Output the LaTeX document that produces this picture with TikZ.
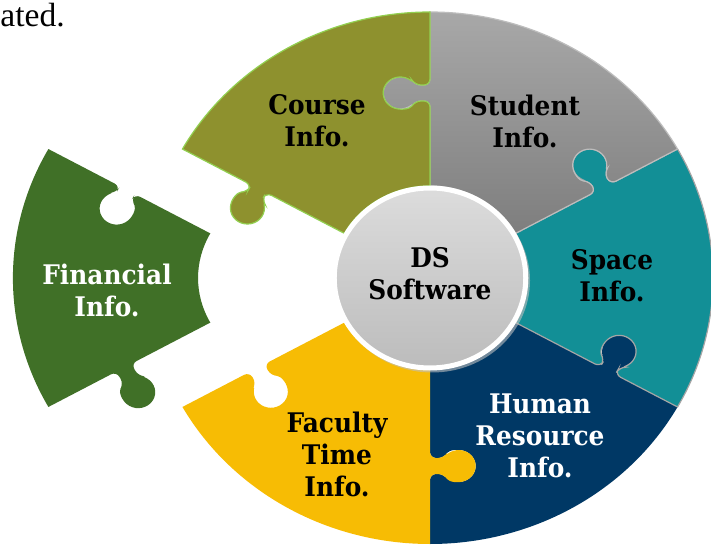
\documentclass[tikz,border=0pt]{standalone}
\usepackage{fontspec}
\setmainfont{DejaVu Serif}[FakeStretch=0.92]
\newfontfamily\pagefont{Liberation Serif}
\definecolor{cFin}{HTML}{407027}
\definecolor{cHR}{HTML}{003865}
\definecolor{cFac}{HTML}{F7BC04}
\definecolor{cSpace}{HTML}{128F96}
\definecolor{cSpaceLine}{HTML}{A5A5A5}
\definecolor{cStuTop}{HTML}{A8A8A8}
\definecolor{cStuBot}{HTML}{7E7E7E}
\definecolor{cStuLine}{HTML}{BDBDBD}
\definecolor{cCourse}{HTML}{8E912E}
\definecolor{cCourseLine}{HTML}{92D050}
\definecolor{cDsTop}{HTML}{DCDCDC}
\definecolor{cDsBot}{HTML}{BCBCBC}
% ring segment from angle #1 (cw edge, socket) to #2 (ccw edge, knob)
% #3 style, #4/#5 radial position / offset of the tab on edge #1, #6/#7 on edge #2
\newcommand\seg[7]{%
  \path[#3] (#1:92)
    {[rotate=#1, shift={(#4,0)}, rounded corners=3]
      -- (-8,0) -- (-8,{#5-13.86})
      arc[start angle=240, end angle=-60, radius=16] -- (8,0)}
    -- (#1:266) arc[start angle=#1, end angle=#2, radius=266]
    {[rotate=#2, shift={(#6,0)}, rounded corners=3]
      -- (8,0) -- (8,{#7-13.86})
      arc[start angle=-60, end angle=240, radius=16] -- (-8,0)}
    -- (#2:92) arc[start angle=#2, end angle=#1, radius=92] -- cycle;}
\begin{document}
\begin{tikzpicture}[x=0.5pt,y=0.5pt,
  lbl/.style={font=\bfseries\fontsize{13.5}{16}\selectfont, align=center, inner sep=0pt}]
\useasboundingbox (-430,-267) rectangle (281,278);
\clip (-430,-267) rectangle (281,278);
\fill[white] (-430,-267) rectangle (281,278);
\begin{scope}[xscale=1.064]
  \begin{scope}[shift={(-126,0)}]
    \seg{151}{209}{fill=cFin}{181}{21}{185}{28}
  \end{scope}
  \seg{270}{331}{fill=cHR}{188}{27}{191}{22}
  \seg{209}{270}{fill=cFac}{186}{27}{188}{27}
  \seg{-29}{29}{fill=cSpace, draw=cSpaceLine, line width=0.6pt}{191}{22}{186}{26}
  \seg{29}{90}{top color=cStuTop, bottom color=cStuBot, draw=cStuLine, line width=0.6pt}{186}{26}{185}{28}
  \seg{90}{151}{fill=cCourse, draw=cCourseLine, line width=0.6pt}{185}{28}{184}{22}
  \fill[black!25, opacity=0.6] (2,-2.5) circle[radius=92];
  \path[top color=cDsTop, bottom color=cDsBot, draw=white, line width=2.5pt] (0,0) circle[radius=90];
\end{scope}
\node[anchor=base west, font=\pagefont\fontsize{16.8}{20}\selectfont, inner sep=0pt] (frag) at (-430,251) {ated.};
\node[lbl] (course) at (-113,157) {Course\\Info.};
\node[lbl] (student) at (95,157) {Student\\Info.};
\node[lbl, text=white] (fin) at (-323,-12) {Financial\\Info.};
\node[lbl] (ds) at (0,4) {DS\\Software};
\node[lbl] (space) at (182,2) {Space\\Info.};
\node[lbl, text=white] (hr) at (110,-158) {Human\\Resource\\Info.};
\node[lbl] (fac) at (-93,-176) {Faculty\\Time\\Info.};
\end{tikzpicture}
\end{document}
